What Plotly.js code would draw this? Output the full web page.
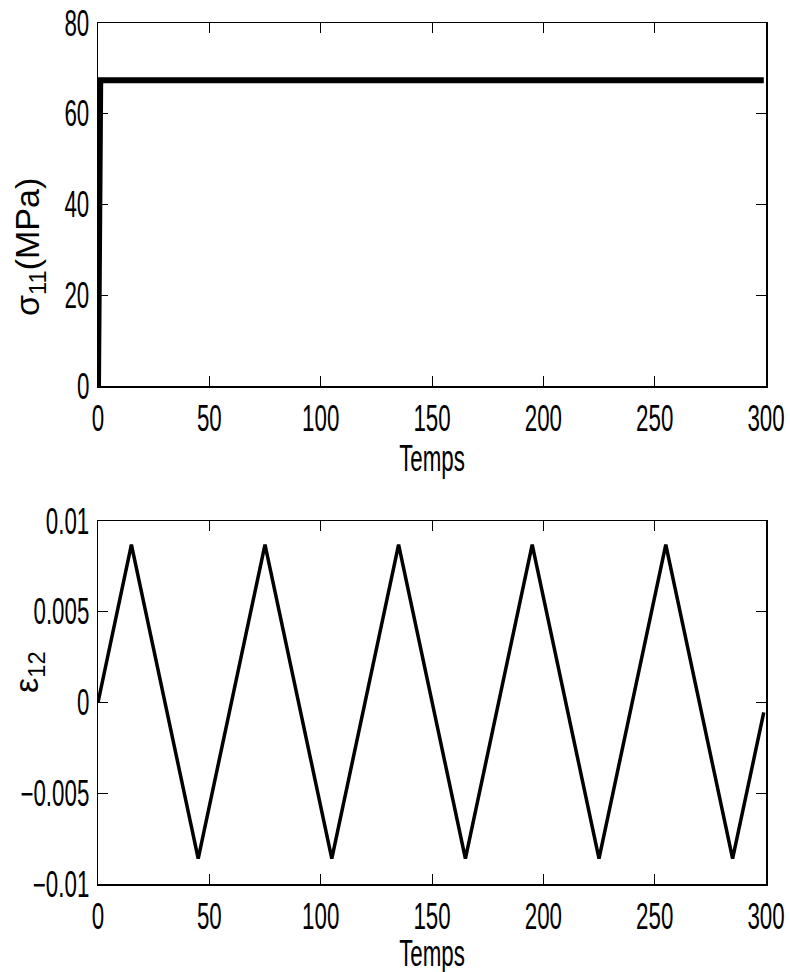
<!DOCTYPE html>
<html>
<head>
<meta charset="utf-8">
<script src="https://cdn.plot.ly/plotly-3.0.1.min.js"></script>
<style>html,body{margin:0;padding:0;background:#fff;}#chart{width:790px;height:972px;}</style>
</head>
<body>
<div id="chart"></div>
<script>
// Top panel: sigma_11 (MPa) vs time
const timeSigma = [0, 1, 299];
const sigma11 = [0, 67.4, 67.4];

// Bottom panel: epsilon_12 vs time (triangle loading, read at vertices)
const timeEps = [0, 15, 45, 75, 105, 135, 165, 195, 225, 255, 285, 299];
const eps12 = [0, 0.0087, -0.0086, 0.0087, -0.0086, 0.0087, -0.0086, 0.0087, -0.0086, 0.0087, -0.0086, -0.00055];

// Tick labels
const xTicks = [0, 50, 100, 150, 200, 250, 300];
const sigmaTicks = [0, 20, 40, 60, 80];
const epsTickVals = [-0.01, -0.005, 0, 0.005, 0.01];
const epsTickText = ['\u22120.01', '\u22120.005', '0', '0.005', '0.01'];

const W = 790, H = 972;
const xd = [98 / W, 766 / W];
const topDom = [(H - 386) / H, (H - 23) / H];
const botDom = [(H - 884) / H, (H - 521) / H];

const tickFont = {family: '"Liberation Sans", Arial, Helvetica, sans-serif', size: 36, color: '#000'};
const labelFont = {family: '"Liberation Sans", Arial, Helvetica, sans-serif', size: 34, color: '#000'};
const NARROW = 0.62;

const axisCommon = {
  showline: true, linecolor: '#000', linewidth: 1.5, mirror: 'ticks',
  ticks: 'inside', ticklen: 10, tickwidth: 1, tickcolor: '#000',
  showgrid: false, zeroline: false, tickfont: tickFont, automargin: false,
  ticklabeloverflow: 'allow'
};

const data = [
  {x: timeSigma, y: sigma11, type: 'scatter', mode: 'lines', line: {color: '#000', width: 6}, xaxis: 'x', yaxis: 'y', showlegend: false, hoverinfo: 'skip'},
  {x: timeEps, y: eps12, type: 'scatter', mode: 'lines', line: {color: '#000', width: 3.5}, xaxis: 'x2', yaxis: 'y2', showlegend: false, hoverinfo: 'skip'}
];

const layout = {
  width: W, height: H,
  margin: {l: 0, r: 0, t: 0, b: 0},
  paper_bgcolor: '#fff', plot_bgcolor: '#fff',
  showlegend: false,
  xaxis: Object.assign({}, axisCommon, {domain: xd, anchor: 'y', range: [0, 300], tickvals: xTicks}),
  yaxis: Object.assign({}, axisCommon, {domain: topDom, anchor: 'x', range: [0, 80], tickvals: sigmaTicks}),
  xaxis2: Object.assign({}, axisCommon, {domain: xd, anchor: 'y2', range: [0, 300], tickvals: xTicks}),
  yaxis2: Object.assign({}, axisCommon, {domain: botDom, anchor: 'x2', range: [-0.01, 0.01], tickvals: epsTickVals, ticktext: epsTickText}),
  annotations: [
    {text: 'Temps', xref: 'paper', yref: 'paper', x: 432 / W, y: (H - 458) / H, xanchor: 'center', yanchor: 'middle', showarrow: false, font: tickFont},
    {text: 'Temps', xref: 'paper', yref: 'paper', x: 432 / W, y: (H - 953) / H, xanchor: 'center', yanchor: 'middle', showarrow: false, font: tickFont},
    {text: '\u03c3<sub>11</sub>(MPa)', xref: 'paper', yref: 'paper', x: 30 / W, y: (H - 247) / H, xanchor: 'center', yanchor: 'middle', textangle: -90, showarrow: false, font: labelFont},
    {text: '\u03b5<sub>12</sub>', xref: 'paper', yref: 'paper', x: 28 / W, y: (H - 672) / H, xanchor: 'center', yanchor: 'middle', textangle: -90, showarrow: false, font: labelFont}
  ]
};

function narrowText(el, s) {
  const x = parseFloat(el.getAttribute('x') || '0');
  const prev = el.getAttribute('transform') || '';
  el.setAttribute('transform', prev + ' translate(' + x + ',0) scale(' + s + ',1) translate(' + (-x) + ',0)');
}

const gd = document.getElementById('chart');
Plotly.newPlot(gd, data, layout, {staticPlot: true, displayModeBar: false}).then(function () {
  gd.querySelectorAll('.xtick text, .ytick text, .x2tick text, .y2tick text').forEach(function (t) { narrowText(t, NARROW); });
  gd.querySelectorAll('.annotation-text').forEach(function (t) {
    if (t.textContent === 'Temps') narrowText(t, NARROW);
  });
});
</script>
</body>
</html>
